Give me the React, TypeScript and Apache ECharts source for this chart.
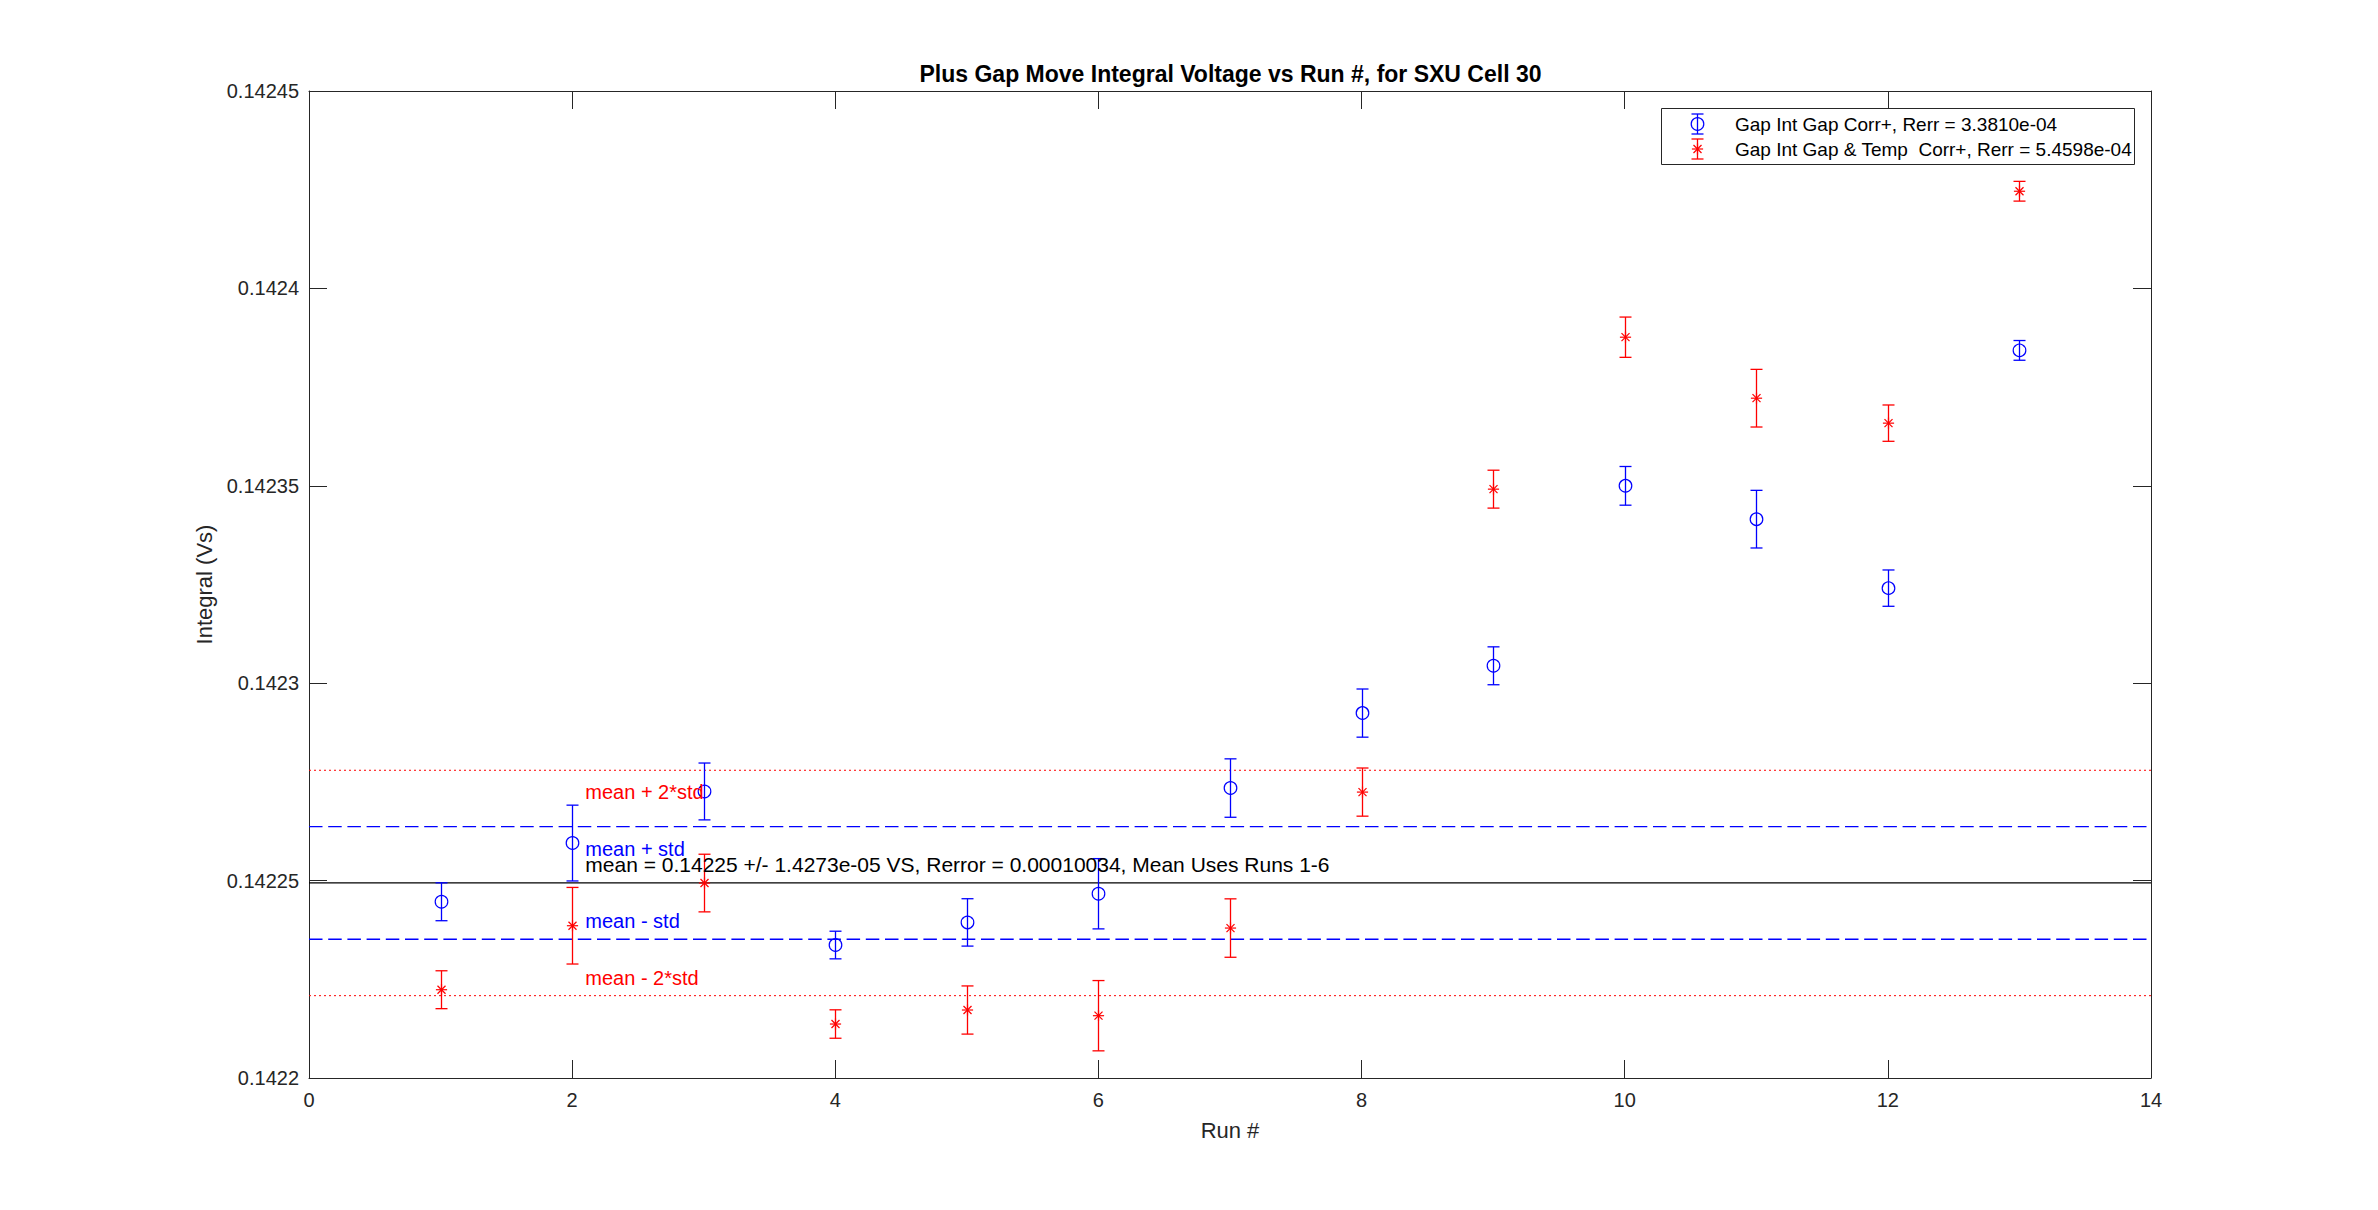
import React, { useEffect, useRef } from "react";
import * as echarts from "echarts";

const FONT = "'Liberation Sans', Arial, Helvetica, sans-serif";

// ---------- data ----------
const runs = [1, 2, 3, 4, 5, 6, 7, 8, 9, 10, 11, 12, 13];
const gapCorr = [
  0.14224464, 0.14225951, 0.14227258, 0.14223368, 0.14223941, 0.14224667, 0.14227344,
  0.14229243, 0.14230441, 0.14234999, 0.14234155, 0.14232408, 0.1423843,
];
const gapCorrErr = [
  0.0000048, 0.0000096, 0.0000072, 0.0000035, 0.000006, 0.0000089, 0.0000074, 0.0000061,
  0.0000048, 0.0000049, 0.0000073, 0.0000046, 0.0000025,
];
const gapTempCorr = [
  0.14222236, 0.14223857, 0.14224938, 0.14221367, 0.14221722, 0.14221578, 0.14223798,
  0.14227242, 0.14234915, 0.14238764, 0.14237219, 0.14236587, 0.14242461,
];
const gapTempCorrErr = [
  0.0000048, 0.0000097, 0.0000073, 0.0000036, 0.0000061, 0.0000089, 0.0000074, 0.0000061,
  0.0000048, 0.0000051, 0.0000073, 0.0000046, 0.0000025,
];
const seriesNames = [
  "Gap Int Gap Corr+, Rerr = 3.3810e-04",
  "Gap Int Gap & Temp  Corr+, Rerr = 5.4598e-04",
];
const meanValue = 0.1422494;
const stdValue = 1.4273e-5;
const annotationTexts = [
  "mean + 2*std",
  "mean + std",
  "mean = 0.14225 +/- 1.4273e-05 VS, Rerror = 0.00010034, Mean Uses Runs 1-6",
  "mean - std",
  "mean - 2*std",
];
const annotationStdMultiples = [2, 1, 0, -1, -2];
const annotationRun = 2.1;
const xMin = 0;
const xMax = 14;
const xInterval = 2;
const yMin = 0.1422;
const yMax = 0.14245;
const yInterval = 0.00005;
const yTickLabels = ["0.1422", "0.14225", "0.1423", "0.14235", "0.1424", "0.14245"];
const titleText = "Plus Gap Move Integral Voltage vs Run #, for SXU Cell 30";
const xName = "Run #";
const yName = "Integral (Vs)";

// ---------- styles ----------
const BLUE = "#0000ff";
const RED = "#ff0000";
const AXIS = "#262626";
const annotationColors = [RED, BLUE, "#000000", BLUE, RED];
const annotationOffsets = [22, 22, -18, -18, -18];
const annotationFontSizes = [20, 20, 21, 20, 20];

function markerShapes(kind: string, cx: number, cy: number, color: string): any[] {
  if (kind === "circle") {
    return [
      {
        type: "circle",
        shape: { cx, cy, r: 6.3 },
        style: { stroke: color, fill: "none", lineWidth: 1.2 },
      },
    ];
  }
  const a = 5.6;
  const d = 4.0;
  const st = { stroke: color, lineWidth: 1.2, fill: "none" };
  return [
    { type: "line", shape: { x1: cx, y1: cy - a, x2: cx, y2: cy + a }, style: st },
    { type: "line", shape: { x1: cx - a, y1: cy, x2: cx + a, y2: cy }, style: st },
    { type: "line", shape: { x1: cx - d, y1: cy - d, x2: cx + d, y2: cy + d }, style: st },
    { type: "line", shape: { x1: cx - d, y1: cy + d, x2: cx + d, y2: cy - d }, style: st },
  ];
}

function errorSeries(name: string, values: number[], errs: number[], color: string, marker: string) {
  return {
    type: "custom",
    name,
    xAxisIndex: 0,
    yAxisIndex: 0,
    z: 4,
    clip: false,
    data: runs.map((r, i) => [r, values[i], errs[i]]),
    encode: { x: 0, y: 1 },
    renderItem: (_params: any, api: any) => {
      const x = api.value(0) as number;
      const y = api.value(1) as number;
      const e = api.value(2) as number;
      const c = api.coord([x, y]);
      const t = api.coord([x, y + e]);
      const b = api.coord([x, y - e]);
      const px = Math.round(c[0]) + 0.5;
      const st = { stroke: color, lineWidth: 1.3, fill: "none" };
      const cap = 6;
      const children: any[] = [
        { type: "line", shape: { x1: px, y1: t[1], x2: px, y2: b[1] }, style: st },
        { type: "line", shape: { x1: px - cap, y1: t[1], x2: px + cap, y2: t[1] }, style: st },
        { type: "line", shape: { x1: px - cap, y1: b[1], x2: px + cap, y2: b[1] }, style: st },
        ...markerShapes(marker, px, c[1], color),
      ];
      return { type: "group", children };
    },
  };
}

function refLine(name: string, value: number, color: string, type: any, width: number) {
  return {
    type: "line",
    name,
    xAxisIndex: 0,
    yAxisIndex: 0,
    data: [
      [xMin, value],
      [xMax, value],
    ],
    symbol: "none",
    silent: true,
    z: 2,
    lineStyle: { color, type, width },
  };
}

function legendGraphic(): any[] {
  const bx = 1661.5;
  const by = 108.5;
  const bw = 473;
  const bh = 56;
  const iconX = 1697.5;
  const textX = 1735;
  const rows = [124, 149];
  const colors = [BLUE, RED];
  const markers = ["circle", "asterisk"];
  const els: any[] = [
    {
      type: "rect",
      shape: { x: bx, y: by, width: bw, height: bh },
      style: { fill: "#ffffff", stroke: AXIS, lineWidth: 1 },
      z: 10,
    },
  ];
  rows.forEach((cy, i) => {
    const col = colors[i];
    const st = { stroke: col, lineWidth: 1.3, fill: "none" };
    const h = 10;
    els.push(
      { type: "line", shape: { x1: iconX, y1: cy - h, x2: iconX, y2: cy + h }, style: st, z: 11 },
      { type: "line", shape: { x1: iconX - 6, y1: cy - h, x2: iconX + 6, y2: cy - h }, style: st, z: 11 },
      { type: "line", shape: { x1: iconX - 6, y1: cy + h, x2: iconX + 6, y2: cy + h }, style: st, z: 11 }
    );
    markerShapes(markers[i], iconX, cy, col).forEach((m) => els.push({ ...m, z: 11 }));
    els.push({
      type: "text",
      x: textX,
      y: cy,
      z: 11,
      style: {
        text: seriesNames[i],
        fill: "#000000",
        fontSize: 19,
        fontFamily: FONT,
        align: "left",
        verticalAlign: "middle",
      },
    });
  });
  return els;
}

function yLabel(v: number): string {
  const idx = Math.round((v - yMin) / yInterval);
  return yTickLabels[idx] ?? String(v);
}

function buildOption(): any {
  const axisCommonX = {
    type: "value",
    min: xMin,
    max: xMax,
    interval: xInterval,
    splitLine: { show: false },
    axisLine: { show: true, onZero: false, lineStyle: { color: AXIS, width: 1 } },
    axisTick: { show: true, inside: true, length: 18, lineStyle: { color: AXIS, width: 1 } },
  };
  const axisCommonY = {
    type: "value",
    min: yMin,
    max: yMax,
    interval: yInterval,
    splitLine: { show: false },
    axisLine: { show: true, onZero: false, lineStyle: { color: AXIS, width: 1 } },
    axisTick: { show: true, inside: true, length: 18, lineStyle: { color: AXIS, width: 1 } },
  };
  return {
    animation: false,
    backgroundColor: "#ffffff",
    title: {
      text: titleText,
      left: 1230.5,
      top: 62,
      padding: 0,
      textAlign: "center",
      textStyle: { fontFamily: FONT, fontSize: 23, fontWeight: "bold", color: "#000000" },
    },
    grid: { left: 309, top: 91, width: 1842, height: 987, containLabel: false },
    xAxis: [
      {
        ...axisCommonX,
        position: "bottom",
        name: xName,
        nameLocation: "middle",
        nameGap: 41,
        nameTextStyle: { fontFamily: FONT, fontSize: 22, color: AXIS },
        axisLabel: { show: true, margin: 12, fontFamily: FONT, fontSize: 20, color: AXIS },
      },
      { ...axisCommonX, position: "top", axisLabel: { show: false } },
    ],
    yAxis: [
      {
        ...axisCommonY,
        position: "left",
        name: yName,
        nameLocation: "middle",
        nameGap: 93,
        nameTextStyle: { fontFamily: FONT, fontSize: 22, color: AXIS },
        axisLabel: {
          show: true,
          margin: 10,
          fontFamily: FONT,
          fontSize: 20,
          color: AXIS,
          formatter: (v: number) => yLabel(v),
        },
      },
      { ...axisCommonY, position: "right", axisLabel: { show: false } },
    ],
    graphic: legendGraphic(),
    series: [
      refLine("mean + 2*std", meanValue + 2 * stdValue, RED, [2, 3], 1),
      refLine("mean + std", meanValue + stdValue, BLUE, [13.5, 5.7], 1.4),
      refLine("mean", meanValue, "#000000", "solid", 1.2),
      refLine("mean - std", meanValue - stdValue, BLUE, [13.5, 5.7], 1.4),
      refLine("mean - 2*std", meanValue - 2 * stdValue, RED, [2, 3], 1),
      errorSeries(seriesNames[0], gapCorr, gapCorrErr, BLUE, "circle"),
      errorSeries(seriesNames[1], gapTempCorr, gapTempCorrErr, RED, "asterisk"),
      {
        type: "custom",
        name: "annotations",
        xAxisIndex: 0,
        yAxisIndex: 0,
        z: 6,
        clip: false,
        silent: true,
        data: annotationStdMultiples.map((k, i) => [annotationRun, meanValue + k * stdValue, i]),
        encode: { x: 0, y: 1 },
        renderItem: (_params: any, api: any) => {
          const i = api.value(2) as number;
          const c = api.coord([api.value(0), api.value(1)]);
          return {
            type: "text",
            x: c[0],
            y: c[1] + annotationOffsets[i],
            style: {
              text: annotationTexts[i],
              fill: annotationColors[i],
              fontSize: annotationFontSizes[i],
              fontFamily: FONT,
              align: "left",
              verticalAlign: "middle",
            },
          };
        },
      },
    ],
  };
}

export default function App() {
  const ref = useRef<HTMLDivElement>(null);
  useEffect(() => {
    if (!ref.current) return;
    const chart = echarts.init(ref.current, null, { renderer: "svg" });
    chart.setOption(buildOption());
    return () => {
      chart.dispose();
    };
  }, []);
  return (
    <div
      ref={ref}
      style={{ position: "fixed", left: 0, top: 0, width: 2378, height: 1210, background: "#ffffff" }}
    />
  );
}
